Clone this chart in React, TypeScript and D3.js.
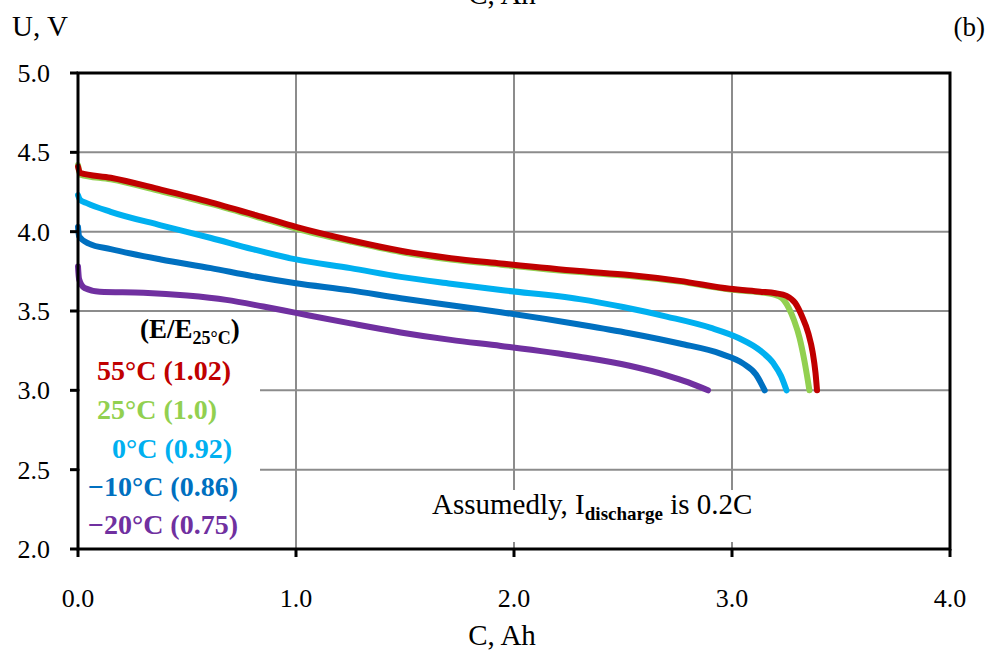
import React from "react";
import * as d3 from "d3";

const xTicks = [0, 1, 2, 3, 4];
const yTicks = [2.0, 2.5, 3.0, 3.5, 4.0, 4.5, 5.0];

const red55: [number, number][] = [
  [0, 4.41], [0.01, 4.37], [0.15, 4.34], [0.38, 4.265], [0.61, 4.185], [0.84, 4.095], [1.0, 4.03],
  [1.25, 3.946], [1.48, 3.88], [1.71, 3.833], [1.94, 3.80], [2.3, 3.752], [2.53, 3.727],
  [2.76, 3.69], [2.99, 3.64], [3.13, 3.622], [3.2, 3.612], [3.25, 3.595], [3.29, 3.55],
  [3.32, 3.47], [3.35, 3.36], [3.37, 3.24], [3.383, 3.11], [3.39, 3.0],
];
const green25: [number, number][] = [
  [0, 4.42], [0.01, 4.36], [0.15, 4.33], [0.38, 4.255], [0.61, 4.175], [0.84, 4.085], [1.0, 4.02],
  [1.25, 3.938], [1.48, 3.872], [1.71, 3.825], [1.94, 3.792], [2.3, 3.745], [2.53, 3.72],
  [2.76, 3.685], [2.99, 3.636], [3.13, 3.618], [3.19, 3.605], [3.23, 3.58], [3.26, 3.52],
  [3.285, 3.44], [3.31, 3.33], [3.333, 3.18], [3.348, 3.06], [3.355, 3.0],
];
const lblue0: [number, number][] = [
  [0, 4.23], [0.01, 4.2], [0.04, 4.18], [0.15, 4.125], [0.38, 4.04], [0.61, 3.96], [0.8, 3.89],
  [1.0, 3.825], [1.25, 3.77], [1.48, 3.715], [1.71, 3.672], [1.94, 3.632], [2.3, 3.575],
  [2.5, 3.525], [2.7, 3.465], [2.9, 3.395], [3.03, 3.33], [3.13, 3.25], [3.19, 3.17],
  [3.225, 3.09], [3.25, 3.0],
];
const dblueM10: [number, number][] = [
  [0, 4.03], [0.005, 3.97], [0.05, 3.925], [0.15, 3.89], [0.38, 3.825], [0.61, 3.77], [0.8, 3.72],
  [1.0, 3.675], [1.25, 3.63], [1.48, 3.58], [1.71, 3.536], [1.94, 3.492], [2.3, 3.415],
  [2.53, 3.36], [2.76, 3.295], [2.95, 3.23], [3.05, 3.17], [3.11, 3.1], [3.15, 3.0],
];
const purpleM20: [number, number][] = [
  [0, 3.78], [0.005, 3.7], [0.03, 3.645], [0.1, 3.622], [0.3, 3.615], [0.5, 3.597], [0.68, 3.57],
  [0.85, 3.528], [1.0, 3.488], [1.25, 3.422], [1.48, 3.365], [1.71, 3.318], [1.94, 3.28],
  [2.3, 3.212], [2.53, 3.155], [2.7, 3.095], [2.8, 3.05], [2.89, 3.0],
];

const seriesData = [green25, red55, lblue0, dblueM10, purpleM20];
const seriesColors = ["#92D050", "#C00000", "#00B0F0", "#0070C0", "#7030A0"];
const legendLabels = ["55°C (1.02)", "25°C (1.0)", "0°C (0.92)", "−10°C (0.86)", "−20°C (0.75)"];
const legendColors = ["#C00000", "#92D050", "#00B0F0", "#0070C0", "#7030A0"];

const W = 987;
const H = 652;
const L = 78, R = 950, T = 73, B = 549;
const FONT = "'Liberation Serif', 'DejaVu Serif', serif";

export default function App() {
  const x = d3.scaleLinear().domain([0, 4]).range([L, R]);
  const y = d3.scaleLinear().domain([2, 5]).range([B, T]);
  const line = d3
    .line<[number, number]>()
    .x((d) => x(d[0]))
    .y((d) => y(d[1]))
    .curve(d3.curveMonotoneX);

  const legendX = [97, 97, 112, 88, 88];
  const legendY = [380, 419, 458, 496, 534];

  return (
    <svg
      width={W}
      height={H}
      style={{ position: "fixed", left: 0, top: 0, background: "#fff" }}
      fontFamily={FONT}
    >
      <rect x={0} y={0} width={W} height={H} fill="#fff" />
      {yTicks.filter((t) => t > 2 && t < 5).map((t) => (
        <line key={"gy" + t} x1={L} x2={R} y1={y(t)} y2={y(t)} stroke="#8c8c8c" strokeWidth={2} />
      ))}
      {xTicks.filter((t) => t > 0 && t < 4).map((t) => (
        <line key={"gx" + t} x1={x(t)} x2={x(t)} y1={T} y2={B} stroke="#8c8c8c" strokeWidth={2} />
      ))}
      <rect x={L + 2} y={316} width={180} height={226} fill="#fff" />
      <rect x={425} y={490} width={362} height={52} fill="#fff" />
      {seriesData.map((s, i) => (
        <path
          key={"s" + i}
          d={line(s) || ""}
          fill="none"
          stroke={seriesColors[i]}
          strokeWidth={6}
          strokeLinecap="round"
          strokeLinejoin="round"
        />
      ))}
      <rect x={L} y={T} width={R - L} height={B - T} fill="none" stroke="#000" strokeWidth={3} />
      {yTicks.map((t) => (
        <g key={"yt" + t}>
          <line x1={L - 8} x2={L} y1={y(t)} y2={y(t)} stroke="#000" strokeWidth={3} />
          <text x={L - 28} y={y(t)} dy="0.35em" textAnchor="end" fontSize={26} fill="#000">
            {t.toFixed(1)}
          </text>
        </g>
      ))}
      {xTicks.map((t) => (
        <g key={"xt" + t}>
          <line x1={x(t)} x2={x(t)} y1={B} y2={B + 8} stroke="#000" strokeWidth={3} />
          <text x={x(t)} y={607} textAnchor="middle" fontSize={26} fill="#000">
            {t.toFixed(1)}
          </text>
        </g>
      ))}
      <text x={502} y={645} textAnchor="middle" fontSize={29} fill="#000">C, Ah</text>
      <text x={502} y={4} textAnchor="middle" fontSize={29} fill="#000">C, Ah</text>
      <text x={12} y={36} fontSize={29} fill="#000">U, V</text>
      <text x={985} y={36} textAnchor="end" fontSize={27} fill="#000">(b)</text>
      <text x={140} y={338} fontSize={27} fontWeight="bold" fill="#000">
        (E/E<tspan fontSize={18} dy={6}>25°C</tspan><tspan dy={-6}>)</tspan>
      </text>
      {legendLabels.map((lab, i) => (
        <text
          key={"lg" + i}
          x={legendX[i]}
          y={legendY[i]}
          fontSize={28}
          fontWeight="bold"
          fill={legendColors[i]}
        >
          {lab}
        </text>
      ))}
      <text x={432} y={514} fontSize={29} fill="#000">
        Assumedly, I<tspan fontSize={19} fontWeight="bold" dy={6}>discharge</tspan>
        <tspan dy={-6}> is 0.2C</tspan>
      </text>
    </svg>
  );
}
